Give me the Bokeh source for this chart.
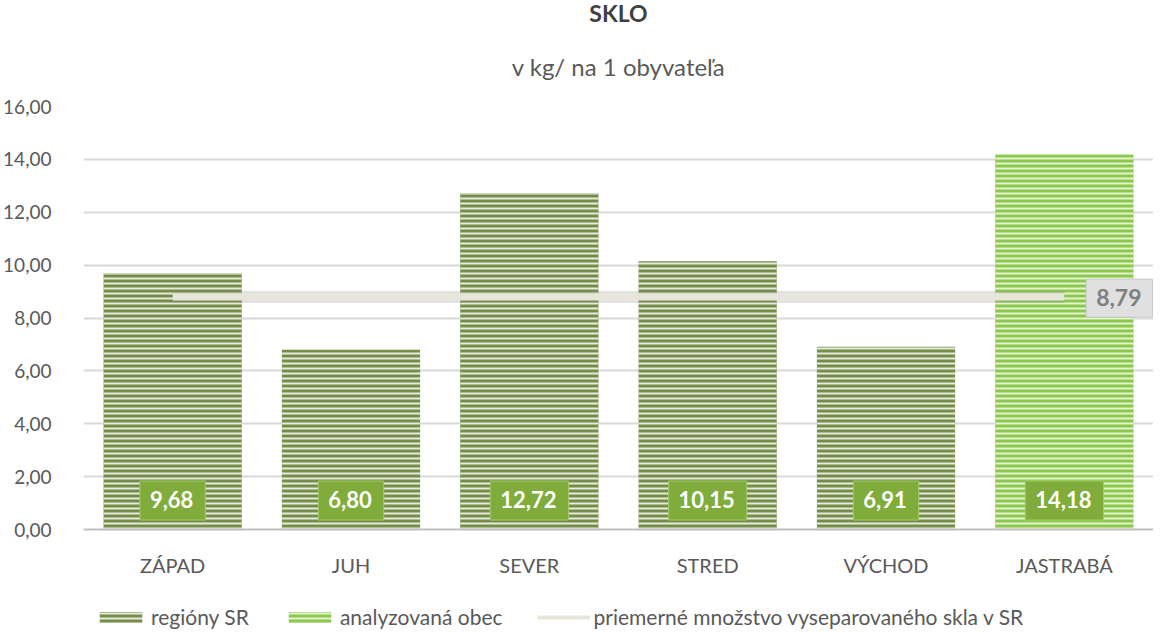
from bokeh.plotting import figure
from bokeh.layouts import column
from bokeh.models import FactorRange, FixedTicker, Legend, LegendItem, Title, ColumnDataSource
from bokeh.core.properties import value
from bokeh.embed import file_html
from bokeh.resources import INLINE

# ---- data ----
categories = ["ZÁPAD", "JUH", "SEVER", "STRED", "VÝCHOD", "JASTRABÁ"]
region_cats = ["ZÁPAD", "JUH", "SEVER", "STRED", "VÝCHOD"]
region_values = [9.68, 6.80, 12.72, 10.15, 6.91]
town_cats = ["JASTRABÁ"]
town_values = [14.18]
average_value = 8.79
value_labels = ["9,68", "6,80", "12,72", "10,15", "6,91", "14,18"]
average_label = "8,79"
y_ticks = [0, 2, 4, 6, 8, 10, 12, 14, 16]
y_tick_labels = ["0,00", "2,00", "4,00", "6,00", "8,00", "10,00", "12,00", "14,00", "16,00"]
title_text = "SKLO"
subtitle_text = "v kg/ na 1 obyvateľa"
legend_labels = ["regióny SR", "analyzovaná obec",
                 "priemerné množstvo vyseparovaného skla v SR"]

FONT = "Lato"
GRAY = "#595959"

REGION_STYLE = dict(fill_color="#748e48", line_color=None,
                    hatch_pattern="horizontal_line", hatch_color="#e6ebdd",
                    hatch_scale=5, hatch_weight=2)
TOWN_STYLE = dict(fill_color="#8cc84b", line_color=None,
                  hatch_pattern="horizontal_line", hatch_color="#e4f3d3",
                  hatch_scale=5, hatch_weight=2)
AVG_STYLE = dict(line_color="#e8e6da", line_width=7)

p = figure(x_range=FactorRange(*categories, range_padding=0),
           y_range=(0, 16),
           frame_width=1070, frame_height=423,
           output_backend="svg", toolbar_location=None,
           min_border_left=78, min_border_right=0,
           min_border_top=0, min_border_bottom=66)
p.outline_line_color = None
p.background_fill_color = "white"

# titles
p.add_layout(Title(text=subtitle_text, align="center", text_font=FONT,
                   text_font_size="24px", text_font_style="normal",
                   text_color=GRAY, standoff=52), "above")
p.add_layout(Title(text=title_text, align="center", text_font=FONT,
                   text_font_size="23px", text_font_style="bold",
                   text_color="#404040", standoff=-7), "above")

# grid & axes
p.xgrid.grid_line_color = None
p.ygrid.grid_line_color = "#d9d9d9"
p.ygrid.grid_line_width = 2
p.yaxis.ticker = FixedTicker(ticks=y_ticks)
p.yaxis.major_label_overrides = {t: l for t, l in zip(y_ticks, y_tick_labels)}
p.yaxis.axis_line_color = None
p.yaxis.major_tick_line_color = None
p.yaxis.minor_tick_line_color = None
p.yaxis.major_label_text_font = FONT
p.yaxis.major_label_text_font_size = "19px"
p.yaxis.major_label_text_color = GRAY
p.yaxis.major_label_standoff = 26

p.xaxis.axis_line_color = "#bfbfbf"
p.xaxis.axis_line_width = 2
p.xaxis.major_tick_line_color = None
p.xaxis.minor_tick_line_color = None
p.xaxis.major_label_text_font = FONT
p.xaxis.major_label_text_font_size = "20px"
p.xaxis.major_label_text_color = GRAY
p.xaxis.major_label_standoff = 17

# bars
p.vbar(x=region_cats, top=region_values, width=0.775, **REGION_STYLE)
p.vbar(x=town_cats, top=town_values, width=0.775, **TOWN_STYLE)

# average line
avg_y = [average_value] * len(categories)
p.line(x=categories, y=avg_y, line_color="#8a8a8a", line_width=12, line_alpha=0.25)
p.line(x=categories, y=avg_y, **AVG_STYLE)

# value labels at the base of each bar
lab_src = ColumnDataSource(dict(x=categories, y=[0] * len(categories), t=value_labels))
p.text(x="x", y="y", text="t", source=lab_src, anchor="center",
       y_offset=-29, text_font=value(FONT), text_font_size="22px",
       text_font_style="bold", text_color="white",
       background_fill_color="#7fac3a", border_line_color="#a5c96a",
       border_line_width=1, padding=[10, 12, 10, 12])

# average label
avg_src = ColumnDataSource(dict(x=[categories[-1]], y=[average_value], t=[average_label]))
p.text(x="x", y="y", text="t", source=avg_src, anchor="center",
       x_offset=55, y_offset=1, text_font=value(FONT), text_font_size="23px",
       text_font_style="bold", text_color="#7f7f7f",
       background_fill_color="#e0e0e0", border_line_color="#c8c8c8",
       border_line_width=1, padding=[10, 11, 10, 11])

# ---- legend strip (legend swatches sit outside the visible range) ----
lf = figure(width=1148, height=42, x_range=(0, 1), y_range=(0, 1),
            output_backend="svg", toolbar_location=None,
            x_axis_location=None, y_axis_location=None,
            min_border_left=0, min_border_right=0, min_border_top=0, min_border_bottom=0)
lf.outline_line_color = None
lf.xgrid.grid_line_color = None
lf.ygrid.grid_line_color = None
lr1 = lf.vbar(x=[5], top=[1], width=0.5, **REGION_STYLE)
lr2 = lf.vbar(x=[5], top=[1], width=0.5, **TOWN_STYLE)
lr3 = lf.line(x=[5, 6], y=[0, 0], line_color="#e8e6da", line_width=4)
legend = Legend(items=[LegendItem(label=legend_labels[0], renderers=[lr1]),
                       LegendItem(label=legend_labels[1], renderers=[lr2]),
                       LegendItem(label=legend_labels[2], renderers=[lr3])],
                orientation="horizontal", location=(11, 8),
                glyph_width=53, glyph_height=14, spacing=34,
                label_text_font=FONT, label_text_font_size="21px",
                label_text_color=GRAY, border_line_color=None,
                background_fill_alpha=0, margin=0, padding=2, label_standoff=4)
lf.add_layout(legend)

layout = column(p, lf, spacing=0)
open("out.html", "w").write(file_html(layout, INLINE))
